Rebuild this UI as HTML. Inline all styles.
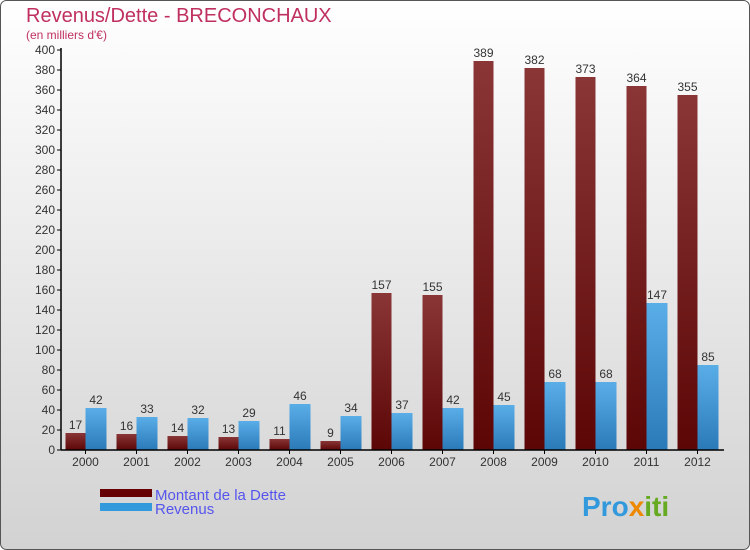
<!DOCTYPE html>
<html><head><meta charset="utf-8"><style>
body{margin:0}
#c{position:relative;width:750px;height:550px;overflow:hidden;font-family:"Liberation Sans",sans-serif}
</style></head><body>
<div id="c">
<svg id="s" width="750" height="550" xmlns="http://www.w3.org/2000/svg">
<defs>
<linearGradient id="bg" x1="0" y1="0" x2="0" y2="1"><stop offset="0" stop-color="#ffffff"/><stop offset="1" stop-color="#d2d2d2"/></linearGradient>
<linearGradient id="gd" x1="0" y1="0" x2="0" y2="1"><stop offset="0" stop-color="#8a3636"/><stop offset="1" stop-color="#5c0606"/></linearGradient>
<linearGradient id="gr" x1="0" y1="0" x2="0" y2="1"><stop offset="0" stop-color="#5aaee8"/><stop offset="1" stop-color="#2a7ab8"/></linearGradient>
</defs>
<rect x="0.5" y="0.5" width="749" height="549" rx="6" fill="url(#bg)" stroke="#555"/>
<text x="26" y="22" font-size="20" fill="#c0305f">Revenus/Dette - BRECONCHAUX</text>
<text x="26" y="39" font-size="12" fill="#c0305f">(en milliers d'€)</text>
<g id="plot"></g>
<rect x="100" y="489" width="52" height="8" fill="#660000"/>
<rect x="100" y="503" width="52" height="8" fill="#3399dd"/>
<text x="155" y="500" font-size="15" fill="#5555ee">Montant de la Dette</text>
<text x="155" y="514" font-size="15" fill="#5555ee">Revenus</text>
<text x="582" y="516" font-size="28" font-weight="bold" fill="#3399dd">Pro<tspan fill="#ee8800">x</tspan><tspan fill="#66aa22">iti</tspan></text>
</svg>
</div>
<script>
const years=["2000","2001","2002","2003","2004","2005","2006","2007","2008","2009","2010","2011","2012"];
const dette=[17,16,14,13,11,9,157,155,389,382,373,364,355];
const revenus=[42,33,32,29,46,34,37,42,45,68,68,147,85];
const yTicks=[0,20,40,60,80,100,120,140,160,180,200,220,240,260,280,300,320,340,360,380,400];
const NS="http://www.w3.org/2000/svg";
const g=document.getElementById('plot');
const x0=60,band=51,y0=450,yMax=400,ph=400;
const Y=v=>y0-v/yMax*ph;
function mk(t,a,txt){const e=document.createElementNS(NS,t);for(const k in a)e.setAttribute(k,a[k]);if(txt!==undefined)e.textContent=txt;g.appendChild(e);return e;}
yTicks.forEach(v=>{
 const t=mk('line',{x1:57,x2:61,y1:Y(v),y2:Y(v),stroke:'#000'});
 
 
 const l=mk('text',{x:55,y:Y(v)+4,'font-size':12,fill:'#333','text-anchor':'end'},v);
 
 
});
years.forEach((yr,i)=>{
 const c=x0+band*i+band/2;
 const b1=mk('rect',{x:c-20,y:Y(dette[i]),width:20,height:y0-Y(dette[i]),fill:'url(#gd)'});
 
 
 const b2=mk('rect',{x:c,y:Y(revenus[i]),width:21,height:y0-Y(revenus[i]),fill:'url(#gr)'});
 
 
 const t1=mk('text',{x:c-10,y:Y(dette[i])-4,'font-size':12,fill:'#333','text-anchor':'middle'},dette[i]);
 
 
 const t2=mk('text',{x:c+10.5,y:Y(revenus[i])-4,'font-size':12,fill:'#333','text-anchor':'middle'},revenus[i]);
 
 
 const tk=mk('line',{x1:c,x2:c,y1:450,y2:454,stroke:'#000'});
 
 
 const xl=mk('text',{x:c,y:466,'font-size':12,fill:'#333','text-anchor':'middle'},yr);
 
 
});
const ya=mk('line',{x1:61,x2:61,y1:48,y2:450,stroke:'#000','stroke-width':1.5});


const xa=mk('line',{x1:61,x2:724,y1:450,y2:450,stroke:'#000','stroke-width':1.5});


</script>
</body></html>
